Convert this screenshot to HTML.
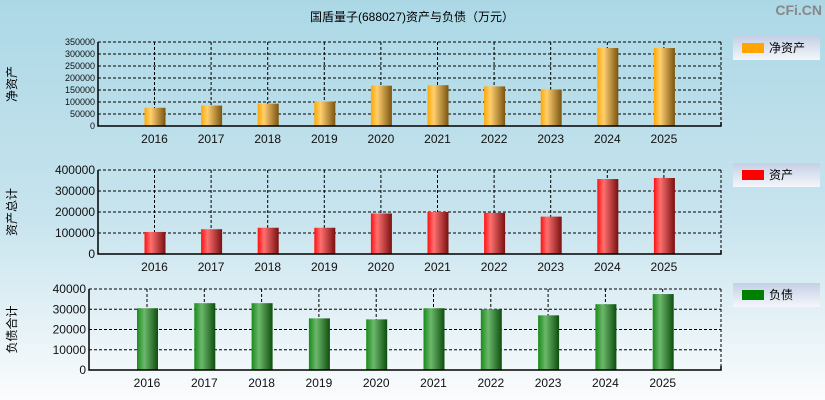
<!DOCTYPE html>
<html><head><meta charset="utf-8"><style>
html,body{margin:0;padding:0}
body{width:825px;height:400px;overflow:hidden;background:linear-gradient(#acd8e6 0%,#c8e4ee 55%,#fbfcfd 100%);font-family:"Liberation Sans","Noto Sans CJK SC",sans-serif}
svg{position:absolute;left:0;top:0}
</style></head><body>
<svg id="c" width="825" height="400">
<defs>
<linearGradient id="gO" x1="0" x2="1"><stop offset="0" stop-color="#ffa800"/><stop offset="0.3" stop-color="#ffcf70"/><stop offset="1" stop-color="#7a5410"/></linearGradient>
<linearGradient id="gR" x1="0" x2="1"><stop offset="0" stop-color="#ff1010"/><stop offset="0.3" stop-color="#ff7070"/><stop offset="1" stop-color="#7a1010"/></linearGradient>
<linearGradient id="gG" x1="0" x2="1"><stop offset="0" stop-color="#1a8a1a"/><stop offset="0.35" stop-color="#6cb86c"/><stop offset="1" stop-color="#0e4e0e"/></linearGradient>
<linearGradient id="gL" x1="0" y1="0" x2="0" y2="1"><stop offset="0" stop-color="#c4d0e6"/><stop offset="1" stop-color="#f4f6fa"/></linearGradient>
</defs>
<text x="412" y="21" text-anchor="middle" font-size="12" fill="#000">国盾量子(688027)资产与负债（万元）</text>
<text x="822" y="15" text-anchor="end" font-size="14" font-weight="bold" fill="#888">CFi.CN</text>
</svg>
<script>
const categories=["2016","2017","2018","2019","2020","2021","2022","2023","2024","2025"];
const netAssets=[76000,85000,93000,102000,168000,170000,165000,152000,325000,325000];
const totalAssets=[105000,118000,125000,125000,193000,200000,196000,178000,357000,362000];
const liabilities=[30500,33000,33000,25500,25000,30500,30000,27000,32500,37500];
const ticks1=[0,50000,100000,150000,200000,250000,300000,350000];
const ticks2=[0,100000,200000,300000,400000];
const ticks3=[0,10000,20000,30000,40000];
const svg=document.getElementById('c');
const NS='http://www.w3.org/2000/svg';
function el(t,a,txt){const e=document.createElementNS(NS,t);for(const k in a)e.setAttribute(k,a[k]);if(txt!=null)e.textContent=txt;svg.appendChild(e);return e;}
function panel(o){
 const y=v=>o.y1-(v-0)/(o.max)*(o.y1-o.y0);
 const x=i=>o.cx0+i*o.step;
 o.ticks.forEach(t=>{
  if(t>0){const g=el('line',{x1:o.x0,x2:o.x1,y1:y(t),y2:y(t),stroke:'#000','stroke-dasharray':'3,2'});
  }
  const l=el('text',{x:o.x0-3,y:y(t)+o.fs*0.35,'text-anchor':'end','font-size':o.fs,fill:'#111'},String(t));
  
 });
 categories.forEach((c,i)=>{
  const g=el('line',{x1:x(i),x2:x(i),y1:o.y0,y2:o.y1,stroke:'#000','stroke-dasharray':'3,2'});
  
  const v=o.data[i];
  const b=el('rect',{x:x(i)-10,y:y(v),width:21,height:o.y1-y(v),fill:o.grad});
  
  const l=el('text',{x:x(i),y:o.y1+17,'text-anchor':'middle','font-size':12,fill:'#111'},c);
  
 });
 const ax=el('path',{d:`M${o.x0} ${o.y0}V${o.y1}H${o.x1}V${o.y1-4}M${o.x1} ${o.y0}v0`,stroke:'#000',fill:'none','stroke-width':1.5});
 
 const top=el('line',{x1:o.x0,x2:o.x1,y1:o.y0,y2:o.y0,stroke:'#000','stroke-dasharray':'3,2'});
 
 const rt=el('line',{x1:o.x1,x2:o.x1,y1:o.y0,y2:o.y1,stroke:'#000','stroke-dasharray':'3,2'});
 
 const yt=el('text',{transform:`translate(${o.tx},${(o.y0+o.y1)/2}) rotate(-90)`,'text-anchor':'middle','font-size':12,fill:'#000'},o.title);
 
 const lb=el('rect',{x:733,y:o.ly,width:87,height:24,fill:'url(#gL)'});
 
 const ls=el('rect',{x:742,y:o.ly+7,width:22,height:10,fill:o.lc});
 
 const lt=el('text',{x:769,y:o.ly+16,'font-size':12,fill:'#000'},o.title2);
 
}
panel({key:'net',data:netAssets,ticks:ticks1,max:350000,x0:98,x1:721,y0:42,y1:126,cx0:154.5,step:56.6,fs:9,grad:'url(#gO)',title:'净资产',title2:'净资产',tx:16,ly:36,lc:'#ffa500'});
panel({key:'assets',data:totalAssets,ticks:ticks2,max:400000,x0:98,x1:721,y0:170,y1:254,cx0:154.5,step:56.6,fs:12,grad:'url(#gR)',title:'资产总计',title2:'资产',tx:16,ly:163,lc:'#ff0000'});
panel({key:'liab',data:liabilities,ticks:ticks3,max:40000,x0:89,x1:721,y0:289,y1:370,cx0:147,step:57.3,fs:12,grad:'url(#gG)',title:'负债合计',title2:'负债',tx:16,ly:283,lc:'#008000'});
</script>
</body></html>
